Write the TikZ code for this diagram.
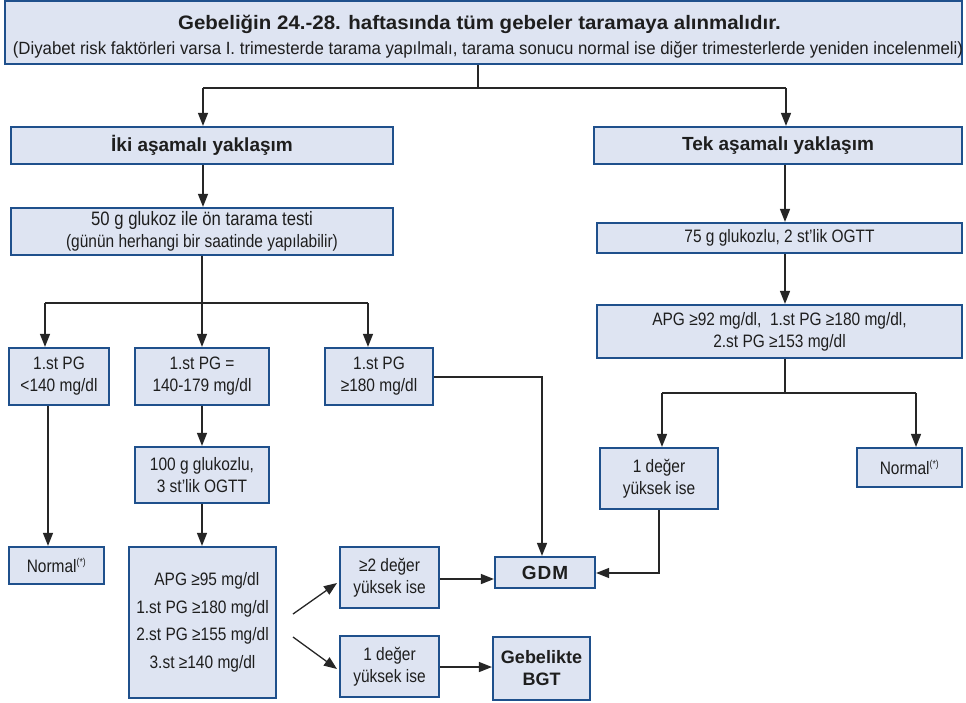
\documentclass[tikz,border=0pt]{standalone}
\usepackage{fontspec}
\setmainfont{Liberation Sans}
\newfontfamily\nar[FakeStretch=0.86]{Liberation Sans}
\newfontfamily\narb[FakeStretch=0.95]{Liberation Sans}
\newfontfamily\widb[FakeStretch=1.05]{Liberation Sans}
\usetikzlibrary{arrows.meta}
\definecolor{boxfill}{RGB}{222,228,242}
\definecolor{boxline}{RGB}{31,80,140}
\definecolor{txt}{RGB}{30,30,30}
\newcommand\supst{\textsuperscript{\fontsize{10}{10}\selectfont(*)}}
\tikzset{
  box/.style={draw=boxline, fill=boxfill, line width=2.2pt, inner sep=0pt, align=center,
    text=txt, font=\nar\fontsize{18}{22}\selectfont},
  bbox/.style={box, font=\bfseries\fontsize{18}{22}\selectfont},
  ln/.style={line width=1.3pt, draw=black!85},
  arr/.style={ln, -{Triangle[length=13pt,width=10pt]}},
}
\begin{document}
\begin{tikzpicture}[x=1pt,y=-1pt]
\useasboundingbox (0,0) rectangle (966,702);
\fill[white] (0,0) rectangle (966,702);
% nodes
\node[box, minimum width=957pt, minimum height=63pt] (top) at (483.5,32.5) {};
\node[anchor=base, inner sep=0pt, text=txt, font=\widb\bfseries\fontsize{19.5}{22}\selectfont] (title) at (479.5,29)
  {Gebeliğin 24.-28. haftasında tüm gebeler taramaya alınmalıdır.};
\node[anchor=base, inner sep=0pt, text=txt, font=\narb\fontsize{17.7}{20}\selectfont] (sub) at (488,54)
  {(Diyabet risk faktörleri varsa I. trimesterde tarama yapılmalı, tarama sonucu normal ise diğer trimesterlerde yeniden incelenmeli)};
\node[bbox, font=\bfseries\fontsize{19}{22}\selectfont, minimum width=382pt, minimum height=37pt] (iki) at (202,145.5) {İki aşamalı yaklaşım};
\node[bbox, font=\bfseries\fontsize{19}{22}\selectfont, minimum width=368pt, minimum height=37pt] (tek) at (778,145.5) {Tek aşamalı yaklaşım};
\node[box, font=\nar\fontsize{19.4}{22}\selectfont, minimum width=382pt, minimum height=47pt] (g50) at (202,231.5)
  {50 g glukoz ile ön tarama testi\\{\fontsize{18}{20}\selectfont (günün herhangi bir saatinde yapılabilir)}};
\node[box, minimum width=365pt, minimum height=30pt] (g75) at (779.5,238) {75 g glukozlu, 2 st’lik OGTT};
\node[box, minimum width=365pt, minimum height=53pt] (apgR) at (779.5,331.5)
  {APG ≥92 mg/dl,\ \ 1.st PG ≥180 mg/dl,\\2.st PG ≥153 mg/dl};
\node[box, minimum width=100pt, minimum height=57pt] (A) at (59,376.5) {1.st PG\\<140 mg/dl};
\node[box, minimum width=134pt, minimum height=57pt] (B) at (202,376.5) {1.st PG =\\140-179 mg/dl};
\node[box, minimum width=108pt, minimum height=57pt] (C) at (379,376.5) {1.st PG\\≥180 mg/dl};
\node[box, minimum width=95pt, minimum height=37pt] (normL) at (56.5,565.5) {Normal\supst};
\node[box, minimum width=134pt, minimum height=56pt] (g100) at (202,475) {100 g glukozlu,\\3 st’lik OGTT};
\node[box, minimum width=147pt, minimum height=151pt, font=\nar\fontsize{18}{27.5}\selectfont] (apgL) at (202.5,622.5)
  {\ \ APG ≥95 mg/dl\\1.st PG ≥180 mg/dl\\2.st PG ≥155 mg/dl\\3.st ≥140 mg/dl};
\node[box, minimum width=99pt, minimum height=61pt] (two) at (389.5,577.5) {≥2 değer\\yüksek ise};
\node[box, minimum width=99pt, minimum height=61pt] (oneL) at (389.5,666.5) {1 değer\\yüksek ise};
\node[bbox, font=\bfseries\fontsize{19}{22}\selectfont, minimum width=100pt, minimum height=31pt] (gdm) at (545,572.5) {G\kern1pt D\kern1pt M};
\node[bbox, minimum width=97pt, minimum height=63pt] (bgt) at (541.5,668.5) {Gebelikte\\BGT};
\node[box, minimum width=118pt, minimum height=61pt] (oneR) at (659,478.5) {1 değer\\yüksek ise};
\node[box, minimum width=105pt, minimum height=39pt] (normR) at (909.5,467.5) {Normal\supst};
% junction coordinates
\coordinate (j0) at (478,88);
\coordinate (jl) at (203,88);
\coordinate (jr) at (786,88);
\coordinate (s1) at (202,303);
\coordinate (sa) at (45,303);
\coordinate (sc) at (368,303);
\coordinate (xa) at (48,405);
\coordinate (cg) at (542,377);
\coordinate (d1) at (293,614);
\coordinate (d1e) at (337,583);
\coordinate (d2) at (293,637);
\coordinate (d2e) at (337,669);
\coordinate (r0) at (785,393);
\coordinate (rl) at (662,393);
\coordinate (rr) at (916,393);
\coordinate (rg) at (659,573);
% connectors
\draw[ln] (top.south -| j0) -- (j0);
\draw[ln] (jl) -- (jr);
\draw[arr] (jl) -- (jl |- iki.north);
\draw[arr] (jr) -- (jr |- tek.north);
\draw[arr] (iki.south -| jl) -- (jl |- g50.north);
\draw[ln] (g50.south) -- (s1);
\draw[ln] (sa) -- (sc);
\draw[arr] (sa) -- (sa |- A.north);
\draw[arr] (s1) -- (B.north);
\draw[arr] (sc) -- (sc |- C.north);
\draw[arr] (xa |- A.south) -- (xa |- normL.north);
\draw[arr] (B.south) -- (B.south |- g100.north);
\draw[arr] (g100.south) -- (g100.south |- apgL.north);
\draw[arr] (C.east |- cg) -- (cg) -- (cg |- gdm.north);
\draw[arr] (d1) -- (d1e);
\draw[arr] (d2) -- (d2e);
\draw[arr] (two.east |- 0,579) -- (gdm.west |- 0,579);
\draw[arr] (oneL.east |- 0,667) -- (bgt.west |- 0,667);
\draw[arr] (tek.south -| r0) -- (r0 |- g75.north);
\draw[arr] (g75.south -| r0) -- (r0 |- apgR.north);
\draw[ln] (apgR.south -| r0) -- (r0);
\draw[ln] (rl) -- (rr);
\draw[arr] (rl) -- (rl |- oneR.north);
\draw[arr] (rr) -- (rr |- normR.north);
\draw[arr] (oneR.south -| rg) -- (rg) -- (gdm.east |- rg);
\end{tikzpicture}
\end{document}
